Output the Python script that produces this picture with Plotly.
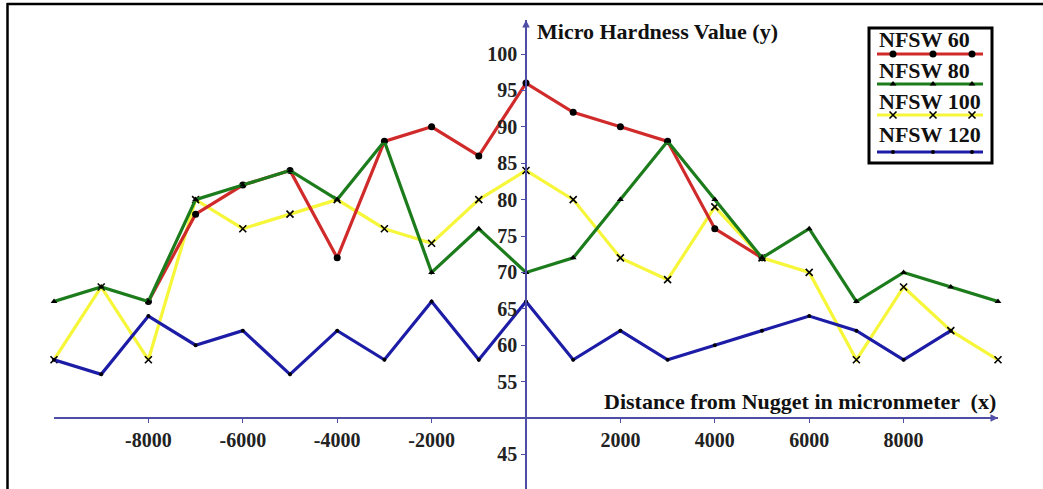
import plotly.graph_objects as go

# ---------------- data ----------------
x_all = [-10000, -9000, -8000, -7000, -6000, -5000, -4000, -3000, -2000, -1000, 0,
         1000, 2000, 3000, 4000, 5000, 6000, 7000, 8000, 9000, 10000]

x_60 = [-8000, -7000, -6000, -5000, -4000, -3000, -2000, -1000, 0, 1000, 2000, 3000, 4000, 5000]
y_60 = [66, 78, 82, 84, 72, 88, 90, 86, 96, 92, 90, 88, 76, 72]

x_80 = x_all
y_80 = [66, 68, 66, 80, 82, 84, 80, 88, 70, 76, 70, 72, 80, 88, 80, 72, 76, 66, 70, 68, 66]

x_100 = x_all
y_100 = [58, 68, 58, 80, 76, 78, 80, 76, 74, 80, 84, 80, 72, 69, 79, 72, 70, 58, 68, 62, 58]

x_120 = x_all[:-1]
y_120 = [58, 56, 64, 60, 62, 56, 62, 58, 66, 58, 66, 58, 62, 58, 60, 62, 64, 62, 58, 62]

series_names = ["NFSW 60", "NFSW 80", "NFSW 100", "NFSW 120"]
x_ticks = [-8000, -6000, -4000, -2000, 2000, 4000, 6000, 8000]
y_ticks = [45, 55, 60, 65, 70, 75, 80, 85, 90, 95, 100]

x_title = "Distance from Nugget in micronmeter  (x)"
y_title = "Micro Hardness Value (y)"

# ---------------- layout constants ----------------
W, H = 1043, 489
ML, MR, MT, MB = 54, 45, 20, 0
XR = [-10000, 10000]
YR = [40.25, 104.67]
Y_CROSS = 50

def pxp(px):  # pixel x -> paper
    return (px - ML) / (W - ML - MR)

def pyp(py):  # pixel y -> paper
    return (H - MB - py) / (H - MT - MB)

FONT = "Liberation Serif"
AX_COL = "#4e4ea6"
COLORS = ["#d02a2a", "#1c7c1c", "#f6f63a", "#1c1ca6"]
MARKERS = [dict(symbol="circle", size=7, color="black"),
           dict(symbol="triangle-up", size=6, color="black"),
           dict(symbol="x-thin", size=7, color="black", line=dict(width=1.6, color="black")),
           dict(symbol="circle", size=4, color="black")]

fig = go.Figure()

data = [(x_60, y_60), (x_80, y_80), (x_100, y_100), (x_120, y_120)]
order = [2, 0, 1, 3]
for i in order:
    xs, ys = data[i]
    fig.add_trace(go.Scatter(x=xs, y=ys, mode="lines+markers", name=series_names[i],
                             line=dict(color=COLORS[i], width=3.2),
                             marker=MARKERS[i], showlegend=False, cliponaxis=False))

# ---- custom legend (pixel overlay axes) ----
leg_text_y = [40, 70, 101, 134]
leg_line_y = [54, 84, 115, 152]
leg_mark_x = [893, 933, 972]
for i in range(4):
    fig.add_trace(go.Scatter(x=[877, 983], y=[leg_line_y[i]] * 2, mode="lines",
                             line=dict(color=COLORS[i], width=3.2), xaxis="x2", yaxis="y2",
                             showlegend=False, hoverinfo="skip"))
    fig.add_trace(go.Scatter(x=leg_mark_x, y=[leg_line_y[i]] * 3, mode="markers",
                             marker=MARKERS[i], xaxis="x2", yaxis="y2",
                             showlegend=False, hoverinfo="skip"))

TXT = dict(family=FONT, size=22, color="#111", weight="bold")
annotations = []
for i in range(4):
    annotations.append(dict(text=series_names[i], xref="paper", yref="paper",
                            x=pxp(877), y=pyp(leg_text_y[i]), xanchor="left", yanchor="middle",
                            showarrow=False, font=TXT))

# axis titles
annotations.append(dict(text=y_title, xref="x", yref="paper", x=0, y=pyp(31), xanchor="left",
                        yanchor="middle", xshift=9, showarrow=False, font=TXT))
annotations.append(dict(text=x_title, xref="x", yref="y", x=XR[1], y=Y_CROSS, xanchor="right",
                        yanchor="bottom", yshift=2, showarrow=False, font=TXT))
# axis arrows
annotations.append(dict(text="", xref="x", yref="y", x=XR[1], y=Y_CROSS, ax=-9, ay=0,
                        showarrow=True, arrowhead=2, arrowsize=1, arrowwidth=1.5, arrowcolor=AX_COL))
annotations.append(dict(text="", xref="x", yref="y", x=0, y=YR[1], ax=0, ay=9,
                        showarrow=True, arrowhead=2, arrowsize=1, arrowwidth=1.5, arrowcolor=AX_COL))

shapes = [
    # outer frame (top and left edges visible)
    dict(type="line", xref="paper", yref="paper", x0=pxp(7), x1=pxp(W), y0=pyp(4), y1=pyp(4),
         line=dict(color="black", width=2.5)),
    dict(type="line", xref="paper", yref="paper", x0=pxp(7.5), x1=pxp(7.5), y0=pyp(3), y1=pyp(H),
         line=dict(color="black", width=2.5)),
    # legend box
    dict(type="rect", xref="paper", yref="paper", x0=pxp(869), x1=pxp(992), y0=pyp(28), y1=pyp(163),
         line=dict(color="black", width=3), fillcolor="rgba(0,0,0,0)"),
]

tickfont = dict(family=FONT, size=20, color="#222", weight="bold")
fig.update_layout(
    width=W, height=H, margin=dict(l=ML, r=MR, t=MT, b=MB),
    paper_bgcolor="white", plot_bgcolor="white",
    xaxis=dict(range=XR, anchor="free", position=(Y_CROSS - YR[0]) / (YR[1] - YR[0]),
               tickvals=x_ticks, ticktext=[str(v) for v in x_ticks], tickfont=tickfont,
               showline=True, linecolor=AX_COL, linewidth=1.5, ticks="outside", ticklen=4,
               tickcolor=AX_COL, showgrid=False, zeroline=False),
    yaxis=dict(range=YR, anchor="free", position=(0 - XR[0]) / (XR[1] - XR[0]),
               tickvals=y_ticks, ticktext=[str(v) for v in y_ticks], tickfont=tickfont,
               showline=True, linecolor=AX_COL, linewidth=1.5, ticks="outside", ticklen=4,
               tickcolor=AX_COL, showgrid=False, zeroline=False),
    xaxis2=dict(range=[ML, W - MR], overlaying="x", visible=False, anchor="y2"),
    yaxis2=dict(range=[H - MB, MT], overlaying="y", visible=False, anchor="x2"),
    annotations=annotations, shapes=shapes,
)

fig.write_html("out.html", config={"displayModeBar": False},
               post_script="document.body.style.margin='0';document.body.style.overflow='hidden';")
